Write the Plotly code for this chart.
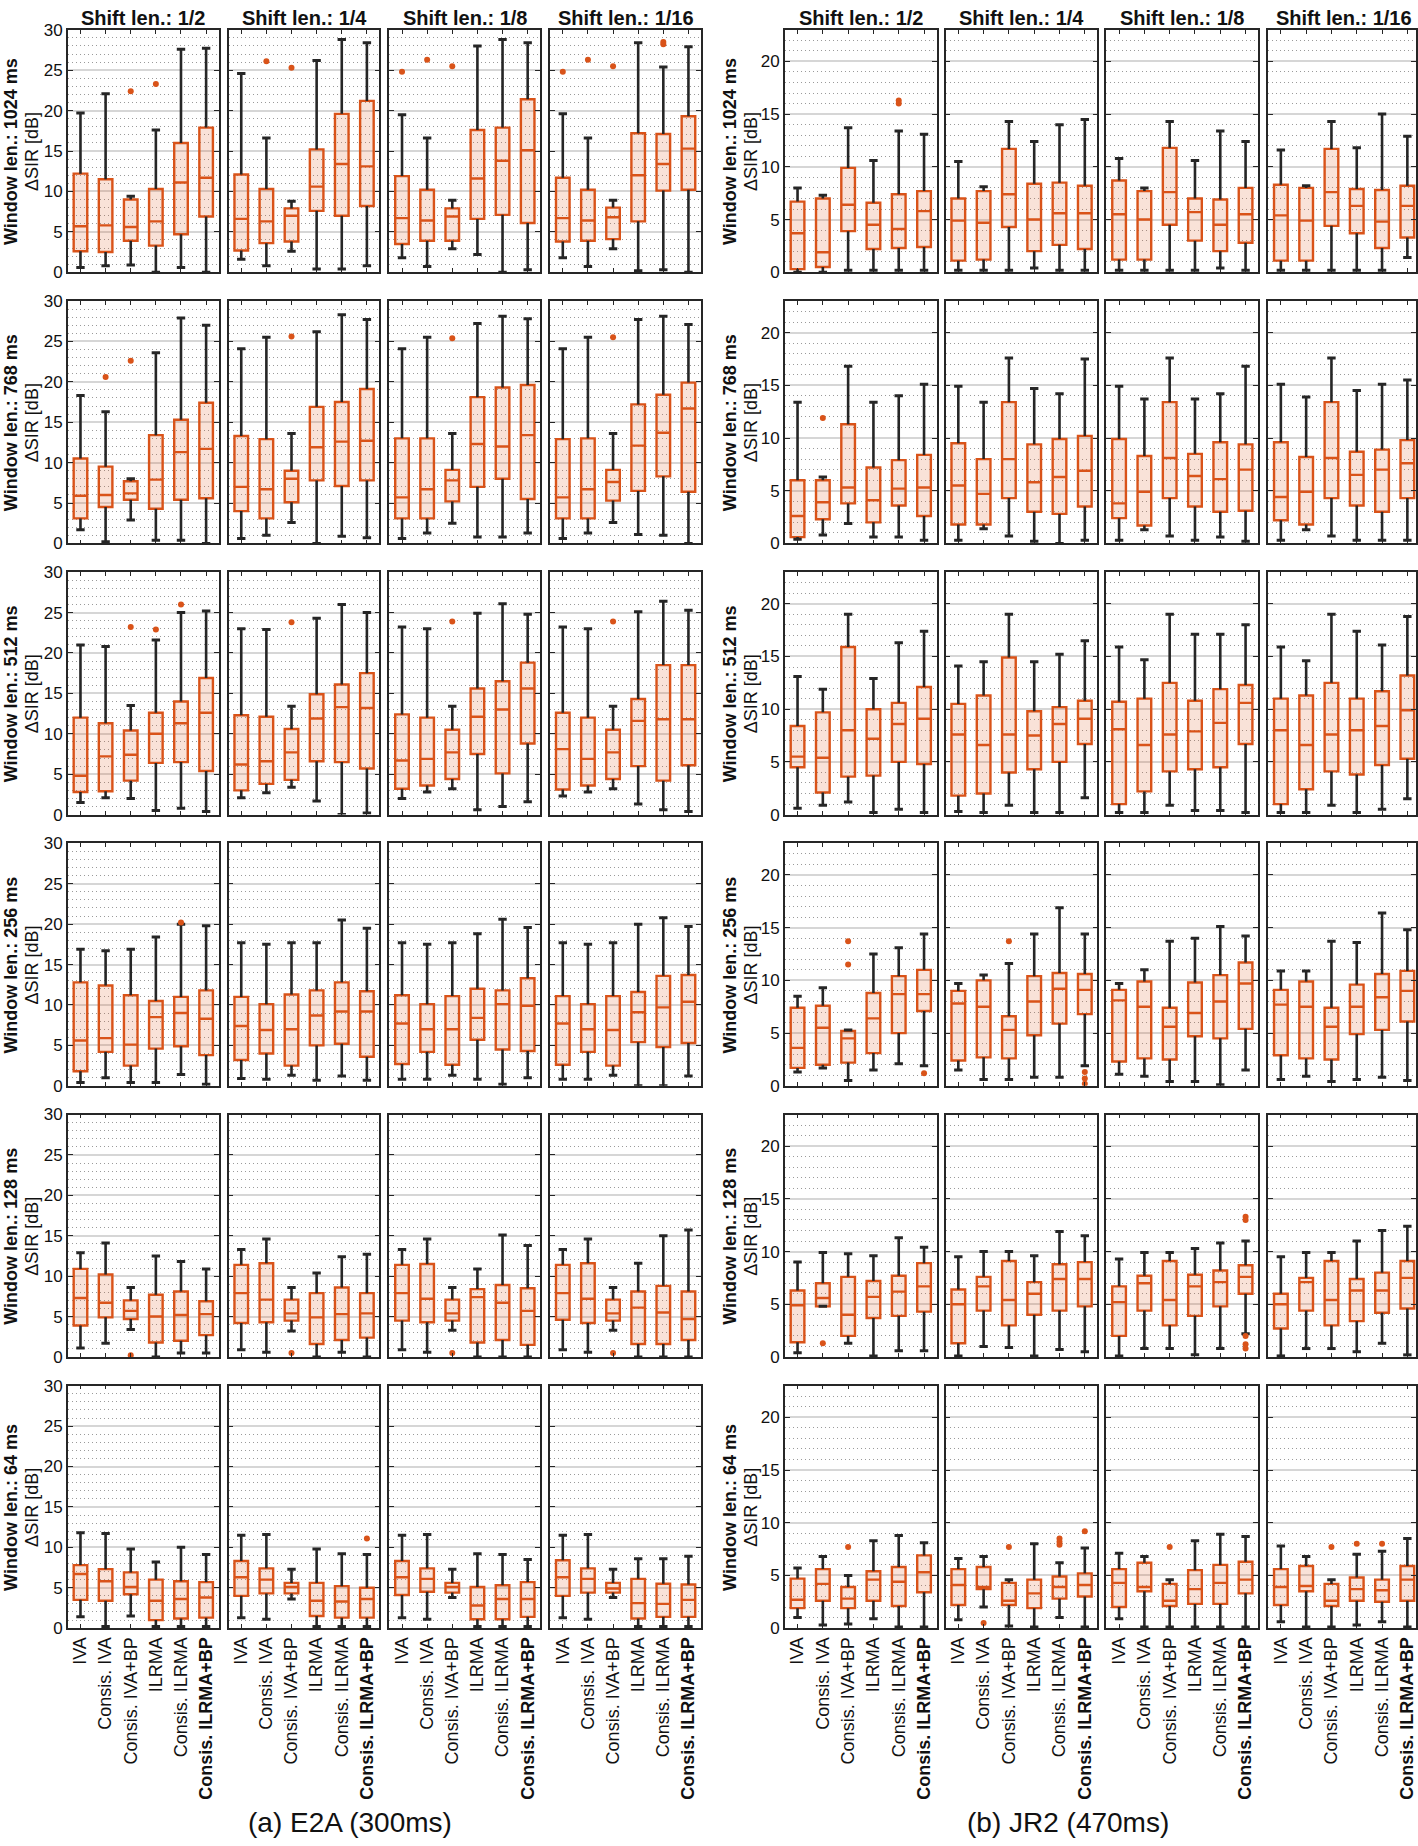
import plotly.graph_objects as go

# ---------------- data ----------------
METHODS = ["IVA", "Consis. IVA", "Consis. IVA+BP", "ILRMA", "Consis. ILRMA", "<b>Consis. ILRMA+BP</b>"]
SHIFTS = ["Shift len.: 1/2", "Shift len.: 1/4", "Shift len.: 1/8", "Shift len.: 1/16"]
WINDOWS = ["1024", "768", "512", "256", "128", "64"]
CAPTIONS = ["(a) E2A (300ms)", "(b) JR2 (470ms)"]
Y_TICKS = [[0, 5, 10, 15, 20, 25, 30], [0, 5, 10, 15, 20]]
Y_MAX = [30, 23]

# each array: [window row][shift column][method]
E2A_MIN = [
    [[0.6, 0.8, 0.9, 0.0, 0.6, 0.0], [1.6, 0.8, 2.6, 0.4, 0.4, 0.8], [1.8, 0.7, 2.9, 2.2, 0.0, 0.3], [1.8, 0.7, 2.9, 0.2, 0.3, 0.0]],
    [[1.7, 0.2, 2.9, 0.4, 0.4, 0.0], [0.6, 1.0, 2.6, 0.0, 0.9, 0.7], [0.6, 1.3, 2.5, 0.8, 0.8, 1.3], [0.6, 1.3, 2.6, 1.1, 1.0, 0.0]],
    [[1.5, 2.1, 2.0, 0.5, 0.8, 0.4], [2.1, 2.7, 3.4, 1.7, 0.0, 0.2], [2.0, 2.8, 3.2, 0.6, 1.0, 1.6], [2.3, 2.8, 3.2, 1.3, 0.6, 0.4]],
    [[0.4, 1.0, 0.4, 0.4, 1.4, 0.2], [0.9, 0.8, 1.3, 0.7, 1.2, 0.7], [0.8, 0.8, 1.3, 0.8, 0.2, 1.0], [0.8, 0.8, 1.3, 0.0, 0.0, 1.2]],
    [[1.1, 1.7, 3.4, 0.0, 0.5, 0.5], [0.9, 0.6, 3.2, 0.0, 0.6, 0.0], [0.9, 0.6, 3.3, 0.0, 0.0, 0.0], [0.9, 0.6, 3.3, 0.0, 0.0, 0.0]],
    [[1.4, 0.2, 1.5, 0.2, 0.2, 0.2], [1.3, 1.1, 3.6, 0.2, 0.2, 0.2], [1.3, 1.1, 3.8, 0.2, 0.2, 0.2], [1.3, 1.1, 3.8, 0.2, 0.2, 0.2]],
]
E2A_Q1 = [
    [[2.6, 2.5, 3.9, 3.3, 4.7, 6.9], [2.7, 3.6, 3.8, 7.6, 7.0, 8.2], [3.5, 3.9, 3.9, 6.6, 7.1, 6.1], [3.8, 3.9, 4.1, 6.3, 10.1, 10.2]],
    [[3.1, 4.5, 5.4, 4.3, 5.4, 5.6], [4.0, 3.1, 5.1, 7.8, 7.1, 7.8], [3.1, 3.1, 5.2, 7.0, 8.0, 5.5], [3.1, 3.1, 5.3, 6.5, 8.3, 6.4]],
    [[2.8, 2.9, 4.2, 6.4, 6.5, 5.4], [3.0, 3.8, 4.3, 6.6, 6.5, 5.7], [3.2, 3.6, 4.4, 7.5, 5.1, 8.8], [3.1, 3.6, 4.4, 6.0, 4.2, 6.1]],
    [[1.8, 4.2, 2.5, 4.6, 4.9, 3.8], [3.2, 4.0, 2.5, 5.0, 5.2, 3.6], [2.7, 4.2, 2.6, 5.7, 4.5, 4.3], [2.6, 4.2, 2.5, 5.4, 4.8, 5.3]],
    [[3.9, 4.9, 4.7, 1.8, 2.0, 2.7], [4.2, 4.3, 4.5, 1.6, 2.1, 2.4], [4.5, 4.3, 4.5, 1.8, 2.1, 1.5], [4.6, 4.2, 4.5, 1.6, 1.6, 2.1]],
    [[3.5, 3.4, 4.2, 1.0, 1.2, 1.3], [4.0, 4.3, 4.3, 1.5, 1.3, 1.3], [4.1, 4.5, 4.4, 1.1, 1.1, 1.4], [4.0, 4.4, 4.4, 1.2, 1.4, 1.4]],
]
E2A_MED = [
    [[5.7, 5.8, 5.6, 6.3, 11.1, 11.7], [6.6, 6.3, 7.0, 10.6, 13.4, 13.1], [6.7, 6.4, 6.9, 11.6, 13.8, 15.1], [6.7, 6.4, 6.8, 12.0, 13.4, 15.3]],
    [[5.9, 6.0, 6.2, 7.9, 11.3, 11.7], [7.0, 6.7, 8.0, 11.9, 12.6, 12.7], [5.7, 6.7, 7.8, 12.3, 12.0, 13.4], [5.7, 6.7, 7.6, 12.1, 13.7, 16.7]],
    [[4.8, 7.2, 7.4, 10.0, 11.3, 12.6], [6.2, 6.6, 7.7, 11.9, 13.3, 13.2], [6.7, 6.9, 7.7, 12.1, 13.0, 15.6], [8.1, 6.9, 7.7, 11.6, 11.8, 11.8]],
    [[5.6, 5.9, 5.1, 8.5, 9.0, 8.3], [7.4, 6.9, 7.0, 8.7, 9.2, 9.2], [7.7, 7.0, 7.0, 8.4, 10.1, 9.9], [7.7, 7.0, 6.9, 9.1, 9.7, 10.4]],
    [[7.3, 6.7, 5.7, 5.0, 5.2, 5.3], [7.9, 7.1, 5.4, 4.9, 5.3, 5.4], [7.9, 7.2, 5.4, 7.4, 6.7, 5.7], [7.9, 7.2, 5.4, 6.1, 5.5, 4.7]],
    [[6.7, 5.8, 5.1, 3.4, 3.6, 3.8], [6.3, 6.0, 5.1, 3.4, 3.3, 3.6], [6.3, 6.1, 5.1, 2.8, 3.6, 3.6], [6.3, 6.1, 4.9, 3.1, 3.0, 3.5]],
]
E2A_Q3 = [
    [[12.2, 11.5, 9.0, 10.3, 16.0, 17.9], [12.1, 10.3, 7.9, 15.2, 19.6, 21.2], [11.9, 10.2, 7.9, 17.6, 17.9, 21.4], [11.7, 10.2, 8.0, 17.2, 17.1, 19.3]],
    [[10.5, 9.5, 7.7, 13.4, 15.3, 17.4], [13.3, 12.9, 9.0, 16.9, 17.5, 19.1], [13.0, 13.0, 9.1, 18.1, 19.3, 19.6], [12.9, 13.0, 9.1, 17.2, 18.4, 19.9]],
    [[12.0, 11.3, 10.4, 12.6, 14.0, 16.9], [12.3, 12.1, 10.6, 14.9, 16.1, 17.5], [12.4, 12.0, 10.5, 15.6, 16.5, 18.8], [12.6, 12.0, 10.5, 14.3, 18.5, 18.5]],
    [[12.8, 12.4, 11.2, 10.5, 11.0, 11.8], [11.0, 10.1, 11.3, 11.8, 12.8, 11.7], [11.2, 10.1, 11.1, 12.0, 11.8, 13.3], [11.1, 10.1, 11.1, 11.6, 13.6, 13.7]],
    [[10.9, 10.2, 7.0, 7.7, 8.1, 6.9], [11.4, 11.6, 7.1, 7.9, 8.6, 7.9], [11.4, 11.5, 7.1, 8.4, 8.9, 8.5], [11.4, 11.6, 7.1, 8.1, 8.8, 8.1]],
    [[7.8, 7.3, 6.9, 6.0, 5.8, 5.7], [8.3, 7.4, 5.6, 5.6, 5.2, 5.0], [8.3, 7.4, 5.6, 5.1, 5.3, 5.7], [8.4, 7.4, 5.6, 6.1, 5.5, 5.4]],
]
E2A_MAX = [
    [[19.7, 22.1, 9.4, 17.6, 27.6, 27.7], [24.6, 16.6, 8.8, 26.2, 28.8, 28.4], [19.5, 16.6, 8.9, 28.0, 28.8, 28.4], [19.6, 16.6, 8.9, 28.4, 25.4, 27.9]],
    [[18.3, 16.3, 8.0, 23.6, 27.9, 27.0], [24.1, 25.5, 13.6, 26.2, 28.3, 27.7], [24.1, 25.5, 13.6, 27.2, 28.1, 27.8], [24.1, 25.5, 13.6, 27.7, 28.1, 27.1]],
    [[21.0, 20.8, 13.5, 21.6, 25.0, 25.2], [23.0, 22.9, 13.4, 24.3, 26.0, 25.0], [23.2, 23.0, 13.4, 24.9, 26.1, 24.8], [23.2, 23.0, 13.4, 25.1, 26.4, 25.3]],
    [[16.9, 16.7, 16.9, 18.4, 20.0, 19.8], [17.7, 17.5, 17.7, 17.7, 20.5, 19.5], [17.7, 17.5, 17.7, 18.8, 20.6, 19.6], [17.7, 17.5, 17.7, 20.0, 20.8, 19.7]],
    [[12.9, 14.1, 8.6, 12.5, 11.8, 10.9], [13.3, 14.6, 8.6, 10.4, 12.4, 12.7], [13.3, 14.6, 8.6, 10.9, 15.1, 13.8], [13.3, 14.6, 8.6, 11.6, 15.0, 15.7]],
    [[11.8, 11.7, 9.8, 8.2, 10.0, 9.1], [11.5, 11.6, 7.3, 9.8, 9.2, 9.1], [11.5, 11.6, 7.3, 9.2, 9.1, 8.5], [11.5, 11.6, 7.3, 8.6, 8.6, 8.9]],
]
# (window row, shift column, method, value)
E2A_OUTLIERS = [
    (0, 0, 2, 22.4), (0, 0, 3, 23.3),
    (0, 1, 1, 26.1), (0, 1, 2, 25.3),
    (0, 2, 0, 24.8), (0, 2, 1, 26.3), (0, 2, 2, 25.5),
    (0, 3, 0, 24.8), (0, 3, 1, 26.3), (0, 3, 2, 25.5), (0, 3, 4, 28.2), (0, 3, 4, 28.5),
    (1, 0, 1, 20.6), (1, 0, 2, 22.6), (1, 1, 2, 25.6), (1, 2, 2, 25.4), (1, 3, 2, 25.5),
    (2, 0, 2, 23.2), (2, 0, 3, 22.9), (2, 0, 4, 26.0), (2, 1, 2, 23.8), (2, 2, 2, 23.9), (2, 3, 2, 23.9),
    (3, 0, 4, 20.2),
    (4, 0, 2, 0.2), (4, 1, 2, 0.5), (4, 2, 2, 0.5), (4, 3, 2, 0.5),
    (5, 1, 5, 11.1),
]

JR2_MIN = [
    [[0.0, 0.0, 0.2, 0.2, 0.2, 0.2], [0.2, 0.2, 0.2, 0.4, 0.2, 0.2], [0.2, 0.2, 0.2, 0.2, 0.4, 0.2], [0.2, 0.2, 0.2, 0.2, 0.2, 1.4]],
    [[0.4, 0.8, 1.9, 0.6, 0.6, 0.3], [0.3, 1.4, 0.7, 0.2, 0.0, 0.3], [0.3, 1.3, 0.7, 0.3, 0.6, 0.2], [0.3, 1.3, 0.7, 0.3, 0.3, 0.3]],
    [[0.6, 0.9, 1.2, 0.2, 0.5, 0.2], [0.3, 0.2, 0.9, 0.2, 0.2, 1.6], [0.2, 0.2, 0.9, 0.4, 0.4, 0.2], [0.2, 0.2, 0.9, 0.2, 0.5, 1.5]],
    [[1.3, 1.7, 0.5, 1.5, 2.1, 1.9], [1.5, 0.6, 0.6, 0.8, 0.8, 1.9], [1.1, 0.9, 0.4, 0.4, 0.1, 1.5], [0.6, 0.9, 0.4, 0.6, 0.8, 0.5]],
    [[0.4, 4.8, 1.3, 0.1, 0.6, 0.6], [0.1, 1.0, 0.9, 0.1, 0.7, 0.5], [0.1, 0.8, 0.8, 0.2, 0.8, 2.2], [0.1, 0.8, 0.8, 0.5, 1.3, 0.2]],
    [[1.0, 0.3, 0.4, 0.9, 0.1, 0.1], [0.8, 2.0, 0.2, 0.1, 1.0, 0.1], [0.9, 0.1, 0.1, 0.1, 0.1, 0.1], [0.6, 0.1, 0.1, 0.3, 0.6, 0.1]],
]
JR2_Q1 = [
    [[0.3, 0.5, 3.9, 2.2, 2.3, 2.4], [1.1, 1.2, 4.3, 2.0, 2.6, 2.2], [1.2, 1.2, 4.5, 3.0, 2.0, 2.8], [1.1, 1.1, 4.4, 3.7, 2.3, 3.3]],
    [[0.6, 2.3, 3.8, 2.0, 3.6, 2.6], [1.8, 1.8, 4.3, 3.0, 2.8, 3.5], [2.4, 1.7, 4.3, 3.5, 3.0, 3.1], [2.2, 1.8, 4.3, 3.6, 3.0, 4.3]],
    [[4.5, 2.1, 3.6, 3.7, 5.0, 4.8], [1.8, 2.0, 4.0, 4.3, 5.0, 6.7], [1.0, 2.2, 4.1, 4.3, 4.5, 6.7], [1.0, 2.4, 4.1, 3.8, 4.7, 5.3]],
    [[1.7, 2.0, 2.2, 3.1, 5.0, 7.1], [2.4, 2.7, 2.6, 4.8, 5.9, 6.8], [2.3, 2.6, 2.5, 4.7, 4.5, 5.4], [2.9, 2.6, 2.5, 4.9, 5.3, 6.1]],
    [[1.4, 4.8, 2.0, 3.7, 3.9, 4.3], [1.3, 4.4, 3.0, 4.0, 4.4, 4.8], [2.0, 4.4, 3.0, 3.9, 4.8, 6.0], [2.7, 4.4, 3.0, 3.4, 4.2, 4.6]],
    [[1.9, 2.6, 1.9, 2.6, 2.1, 3.4], [2.2, 3.7, 2.2, 1.9, 2.8, 3.0], [2.0, 3.5, 2.1, 2.3, 2.3, 3.3], [2.2, 3.5, 2.1, 2.6, 2.5, 2.6]],
]
JR2_MED = [
    [[3.7, 1.9, 6.4, 4.5, 4.1, 5.8], [4.9, 4.7, 7.4, 5.0, 5.6, 5.6], [5.5, 5.0, 7.6, 5.7, 4.5, 5.5], [5.4, 4.9, 7.6, 6.3, 4.8, 6.3]],
    [[2.6, 3.9, 5.3, 4.1, 5.2, 5.3], [5.5, 4.7, 8.0, 5.8, 6.3, 6.9], [3.8, 4.9, 8.1, 6.4, 6.1, 7.0], [4.4, 4.9, 8.1, 6.5, 7.0, 7.6]],
    [[5.5, 5.4, 8.0, 7.2, 8.6, 9.1], [7.6, 6.6, 7.6, 7.5, 8.6, 9.1], [8.1, 6.6, 7.6, 7.9, 8.7, 10.6], [8.0, 6.6, 7.6, 8.0, 8.4, 9.9]],
    [[3.6, 5.5, 4.5, 6.4, 8.7, 8.7], [7.8, 7.5, 5.3, 8.0, 9.2, 9.1], [8.1, 7.5, 5.6, 6.9, 8.0, 9.7], [7.7, 7.5, 5.6, 7.5, 8.4, 9.0]],
    [[4.9, 5.6, 4.0, 5.7, 6.2, 6.7], [5.0, 6.7, 5.4, 6.0, 7.4, 7.4], [5.2, 7.0, 5.4, 6.7, 7.1, 7.6], [5.0, 7.1, 5.4, 6.3, 6.3, 7.5]],
    [[2.7, 4.2, 2.8, 4.6, 4.4, 5.3], [4.1, 3.9, 2.6, 3.3, 3.9, 4.1], [4.3, 3.9, 2.6, 3.7, 4.3, 4.6], [3.9, 4.0, 2.6, 3.7, 3.6, 4.6]],
]
JR2_Q3 = [
    [[6.7, 7.0, 9.9, 6.6, 7.4, 7.7], [7.0, 7.7, 11.7, 8.4, 8.5, 8.2], [8.7, 7.7, 11.8, 7.0, 6.9, 8.0], [8.3, 8.0, 11.7, 7.9, 7.8, 8.2]],
    [[6.0, 6.0, 11.3, 7.2, 7.9, 8.4], [9.5, 8.0, 13.4, 9.4, 9.9, 10.2], [9.9, 8.3, 13.4, 8.5, 9.6, 9.4], [9.6, 8.2, 13.4, 8.7, 8.9, 9.8]],
    [[8.4, 9.7, 15.9, 10.0, 10.6, 12.1], [10.5, 11.3, 14.9, 9.8, 10.2, 10.8], [10.7, 11.0, 12.5, 10.8, 11.9, 12.3], [11.0, 11.3, 12.5, 11.0, 11.7, 13.2]],
    [[7.4, 7.6, 5.2, 8.8, 10.4, 11.0], [9.0, 10.0, 6.6, 10.4, 10.7, 10.6], [9.1, 9.9, 7.4, 9.8, 10.5, 11.7], [9.1, 9.9, 7.4, 9.6, 10.6, 10.9]],
    [[6.3, 7.0, 7.6, 7.2, 7.7, 8.9], [6.4, 7.6, 9.1, 7.1, 8.8, 9.0], [6.7, 7.7, 9.1, 7.8, 8.2, 8.7], [6.0, 7.5, 9.1, 7.4, 8.0, 9.1]],
    [[4.7, 5.6, 3.9, 5.4, 5.8, 6.9], [5.6, 5.8, 4.3, 4.6, 4.9, 5.2], [5.6, 6.2, 4.2, 5.5, 6.0, 6.3], [5.6, 5.9, 4.2, 4.8, 4.6, 5.9]],
]
JR2_MAX = [
    [[8.0, 7.3, 13.7, 10.6, 13.4, 13.1], [10.5, 8.1, 14.3, 12.4, 14.0, 14.5], [10.8, 8.0, 14.3, 10.6, 13.4, 12.4], [11.6, 8.2, 14.3, 11.8, 15.0, 12.9]],
    [[13.4, 6.3, 16.8, 13.4, 14.0, 15.1], [14.9, 13.4, 17.6, 14.7, 14.2, 17.5], [14.9, 13.7, 17.6, 13.7, 14.2, 16.8], [15.1, 13.9, 17.6, 14.5, 15.1, 15.5]],
    [[13.1, 11.9, 19.0, 12.9, 16.3, 17.4], [14.1, 14.5, 19.0, 14.5, 15.2, 16.5], [15.9, 14.7, 19.0, 17.1, 17.1, 18.0], [15.9, 14.6, 19.0, 17.4, 16.1, 18.8]],
    [[8.5, 9.3, 5.3, 12.5, 13.1, 14.4], [9.7, 10.5, 11.6, 14.4, 16.9, 14.4], [9.7, 11.0, 13.7, 14.0, 15.1, 14.2], [10.9, 10.9, 13.7, 13.6, 16.4, 14.8]],
    [[9.0, 9.9, 9.8, 9.6, 11.3, 10.4], [9.5, 10.0, 10.0, 9.6, 11.9, 11.5], [9.3, 9.9, 9.9, 10.3, 10.8, 11.0], [9.5, 9.9, 9.9, 11.0, 12.0, 12.4]],
    [[5.7, 6.8, 5.0, 8.3, 8.8, 8.1], [6.6, 6.8, 4.6, 8.0, 6.2, 7.6], [7.1, 6.8, 4.6, 8.3, 8.9, 8.7], [7.8, 6.8, 4.6, 7.0, 7.3, 8.5]],
]
JR2_OUTLIERS = [
    (0, 0, 4, 16.0), (0, 0, 4, 16.3),
    (1, 0, 1, 11.9),
    (3, 0, 2, 13.7), (3, 0, 2, 11.5), (3, 0, 5, 1.2), (3, 1, 2, 13.7), (3, 1, 5, 1.3), (3, 1, 5, 0.7), (3, 1, 5, 0.2),
    (4, 0, 1, 1.3), (4, 2, 5, 13.3), (4, 2, 5, 13.0), (4, 2, 5, 2.0), (4, 2, 5, 1.2), (4, 2, 5, 0.8),
    (5, 0, 2, 7.7), (5, 1, 1, 0.5), (5, 1, 2, 7.7), (5, 1, 4, 8.5), (5, 1, 4, 8.2), (5, 1, 4, 7.9), (5, 1, 5, 9.2),
    (5, 2, 2, 7.7), (5, 3, 2, 7.7), (5, 3, 3, 8.0), (5, 3, 4, 8.0),
]

# ---------------- layout / style ----------------
W, H = 1418, 1846
ORANGE = "#D95319"
FILL = "rgba(217,83,25,0.17)"
INK = "#262626"
FONT = "Liberation Sans, Arial, Helvetica, sans-serif"

COL_LEFT = [[68, 229, 390, 551], [786, 947, 1108, 1270]]
PANEL_W = [151, 152]
ROW_TOP = [21, 295, 569, 843, 1117, 1391]
PANEL_H = 245
ROWLBL_X = [[11, 32], [731, 752]]
CAPTION_X = [350, 1070]


def px(x):
    return x / W


def py(y):
    return 1 - y / H


DATASETS = [
    (E2A_MIN, E2A_Q1, E2A_MED, E2A_Q3, E2A_MAX, E2A_OUTLIERS),
    (JR2_MIN, JR2_Q1, JR2_MED, JR2_Q3, JR2_MAX, JR2_OUTLIERS),
]

fig = go.Figure()
layout_axes = {}
annotations = []
pos = list(range(len(METHODS)))

for g, (mins, q1s, meds, q3s, maxs, outs) in enumerate(DATASETS):
    for r in range(len(WINDOWS)):
        for c in range(len(SHIFTS)):
            k = g * 24 + r * 4 + c + 1
            sfx = "" if k == 1 else str(k)
            xr, yr = "x" + sfx, "y" + sfx

            x0 = COL_LEFT[g][c]
            x1 = x0 + PANEL_W[g]
            xmax = 5.5
            if x1 > W:
                xmax = -0.5 + 6 * (W - x0) / PANEL_W[g]
                x1 = W

            mn, q1, md, q3, mx = mins[r][c], q1s[r][c], meds[r][c], q3s[r][c], maxs[r][c]

            fig.add_trace(go.Box(
                x=pos, q1=q1, median=md, q3=q3, lowerfence=q1, upperfence=q3,
                width=0.54, line=dict(color=ORANGE, width=2.4), fillcolor=FILL,
                boxpoints=False, hoverinfo="skip", xaxis=xr, yaxis=yr))

            wx, wy = [], []
            for i in pos:
                wx += [i, i, None, i, i, None]
                wy += [mn[i], q1[i], None, q3[i], mx[i], None]
            fig.add_trace(go.Scatter(x=wx, y=wy, mode="lines", line=dict(color=INK, width=2.6),
                                     hoverinfo="skip", xaxis=xr, yaxis=yr))
            fig.add_trace(go.Scatter(
                x=pos + pos, y=mn + mx, mode="markers",
                marker=dict(symbol="line-ew", size=6, line=dict(width=3, color=INK)),
                hoverinfo="skip", xaxis=xr, yaxis=yr))

            ox = [o[2] for o in outs if o[0] == r and o[1] == c]
            oy = [o[3] for o in outs if o[0] == r and o[1] == c]
            if ox:
                fig.add_trace(go.Scatter(x=ox, y=oy, mode="markers",
                                         marker=dict(color=ORANGE, size=6),
                                         hoverinfo="skip", xaxis=xr, yaxis=yr))

            top = ROW_TOP[r]
            layout_axes["xaxis" + sfx] = dict(
                domain=[px(x0), px(x1)], anchor=yr, range=[-0.5, xmax],
                tickvals=pos, ticktext=METHODS, showticklabels=(r == len(WINDOWS) - 1),
                tickangle=-90, tickfont=dict(size=18, color="#111", family=FONT),
                ticks="inside", ticklen=4, tickwidth=1.3, tickcolor=INK,
                showline=True, linecolor=INK, linewidth=1.6, mirror="ticks",
                showgrid=False, zeroline=False, fixedrange=True)
            layout_axes["yaxis" + sfx] = dict(
                domain=[py(top + PANEL_H), py(top)], anchor=xr, range=[0, Y_MAX[g]],
                tickvals=Y_TICKS[g], showticklabels=(c == 0),
                tickfont=dict(size=17, color="#111", family=FONT),
                ticks="inside", ticklen=5, tickwidth=1.3, tickcolor=INK,
                showline=True, linecolor=INK, linewidth=1.6, mirror="ticks",
                showgrid=True, gridcolor="#d6d6d6", gridwidth=1.5,
                minor=dict(dtick=1, tick0=0, showgrid=True, gridcolor="#9a9a9a",
                           griddash="1px,3px", gridwidth=1),
                zeroline=False, fixedrange=True)

            if r == 0:
                annotations.append(dict(
                    text="<b>" + SHIFTS[c] + "</b>", x=px((x0 + x0 + PANEL_W[g]) / 2), y=py(9),
                    xref="paper", yref="paper", showarrow=False, xanchor="center", yanchor="middle",
                    font=dict(size=20, color="#111", family=FONT)))
            if c == 0:
                yc = py(top + PANEL_H / 2)
                annotations.append(dict(
                    text="<b>Window len.: " + WINDOWS[r] + " ms</b>", textangle=-90,
                    x=px(ROWLBL_X[g][0]), y=yc, xref="paper", yref="paper", showarrow=False,
                    xanchor="center", yanchor="middle", font=dict(size=18, color="#111", family=FONT)))
                annotations.append(dict(
                    text="ΔSIR [dB]", textangle=-90,
                    x=px(ROWLBL_X[g][1]), y=yc, xref="paper", yref="paper", showarrow=False,
                    xanchor="center", yanchor="middle", font=dict(size=18, color="#111", family=FONT)))

    annotations.append(dict(
        text=CAPTIONS[g], x=px(CAPTION_X[g]), y=py(1832), xref="paper", yref="paper",
        showarrow=False, xanchor="center", yanchor="middle",
        font=dict(size=28, color="#111", family=FONT)))

fig.update_layout(
    width=W, height=H, margin=dict(l=0, r=0, t=0, b=0),
    paper_bgcolor="white", plot_bgcolor="white", showlegend=False,
    font=dict(family=FONT, color="#111"),
    annotations=annotations, **layout_axes)

fig.write_html("out.html", config={"displayModeBar": False},
               post_script="document.body.style.margin='0';document.body.style.overflow='hidden';")
